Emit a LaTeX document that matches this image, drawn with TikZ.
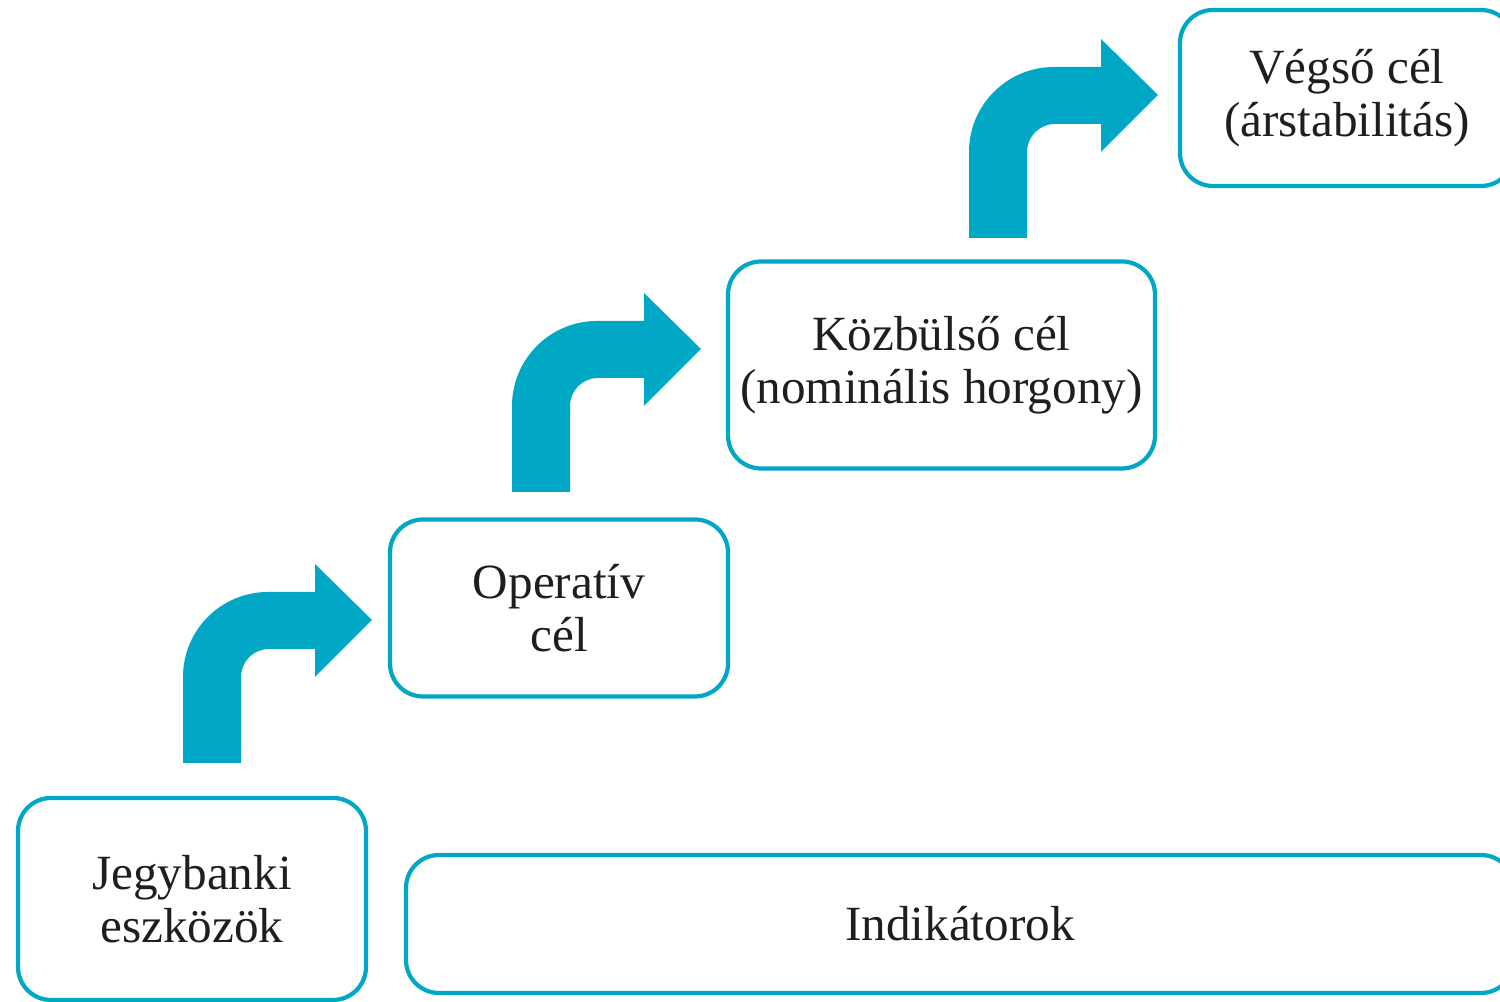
\documentclass[tikz,border=0pt]{standalone}
\usepackage{fontspec}
\setmainfont{Liberation Serif}
\usepackage{xcolor}
\usepackage{tikz}
\usetikzlibrary{positioning}

\definecolor{tealline}{RGB}{0,168,198}
\definecolor{textgray}{RGB}{30,30,30}

% bent arrow, origin = bottom left corner of its stem
\newcommand{\bentarrow}[1]{%
  \fill[tealline, shift={(#1)}] (0,0) -- (0,0.86)
    arc[start angle=180, end angle=90, radius=0.85] -- (1.32,1.71)
    -- (1.32,1.99) -- (1.89,1.43) -- (1.32,0.86) -- (1.32,1.14) -- (0.86,1.14)
    arc[start angle=90, end angle=180, radius=0.28] -- (0.58,0) -- cycle;}

\begin{document}
\begin{tikzpicture}[
    every node/.style={font=\fontsize{14}{15}\selectfont, text=textgray},
    box/.style={rectangle, draw=tealline, line width=1.2pt, rounded corners=0.33cm, align=center, inner sep=0pt}
]
\useasboundingbox (0,0) rectangle (15,10.02);
\clip (0,0) rectangle (15,10.02);
\node (tools) [box, minimum width=3.48cm, minimum height=2.02cm] at (1.92,1.03) {Jegybanki\\eszközök};
\node (ind) [box, minimum width=11.08cm, minimum height=1.38cm] at (9.60,0.78) {Indikátorok};
\node (oper) [box, minimum width=3.38cm, minimum height=1.77cm] at (5.59,3.94) {Operatív\\cél};
\node (inter) [box, minimum width=4.27cm, minimum height=2.07cm] at (9.415,6.37) {Közbülső cél\\(nominális horgony)};
\node (final) [box, minimum width=3.34cm, minimum height=1.76cm] at (13.47,9.04) {Végső cél\\(árstabilitás)};
\coordinate (a1) at (1.83,2.39);
\coordinate (a2) at (5.12,5.10);
\coordinate (a3) at (9.69,7.64);
\bentarrow{a1} \bentarrow{a2} \bentarrow{a3}
\end{tikzpicture}
\end{document}
